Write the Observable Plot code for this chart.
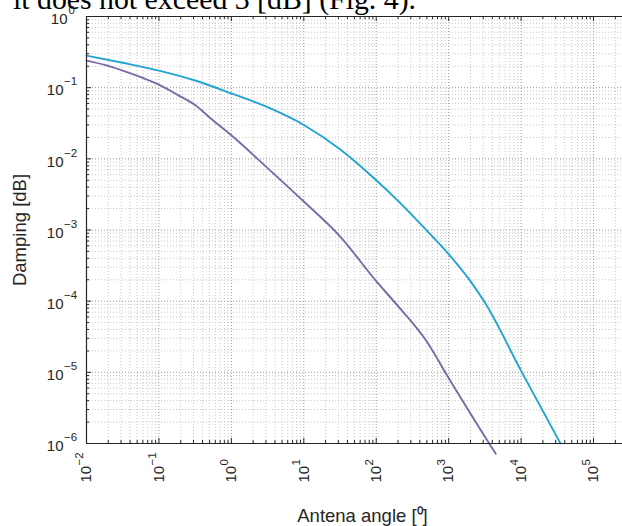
<!DOCTYPE html>
<html><head><meta charset="utf-8">
<script src="https://cdn.jsdelivr.net/npm/d3@7"></script>
<script src="https://cdn.jsdelivr.net/npm/@observablehq/plot@0.6"></script>
<style>
body{margin:0;background:#fff;}
#wrap{position:relative;width:622px;height:526px;overflow:hidden;background:#fff;}
#note{position:absolute;left:13px;top:-16px;font-family:"Liberation Serif","Times New Roman",serif;font-size:29.8px;line-height:29.8px;color:#000;white-space:nowrap;}
</style></head><body>
<div id="wrap"><div id="chart"></div><div id="note">it does not exceed 3 [dB] (Fig. 4).</div></div>
<script>
// ---- data ----
const xTicks = [1e-2, 1e-1, 1, 10, 100, 1e3, 1e4, 1e5];
const xTickExp = ["\u22122", "\u22121", "0", "1", "2", "3", "4", "5"];
const yTicks = [1, 1e-1, 1e-2, 1e-3, 1e-4, 1e-5, 1e-6];
const yTickExp = ["0", "\u22121", "\u22122", "\u22123", "\u22124", "\u22125", "\u22126"];

const cyanX = [0.01, 0.0316, 0.1, 0.316, 1, 3.16, 10, 31.6, 100, 200, 501, 1000, 1995, 3162, 10000, 35000];
const cyanY = [0.282, 0.224, 0.174, 0.126, 0.083, 0.0531, 0.0299, 0.01365, 0.00501, 0.00257, 0.000977, 0.000457, 0.000191, 9.55e-5, 1.05e-5, 1e-6];

const purpleX = [0.01, 0.0178, 0.0316, 0.0562, 0.1, 0.178, 0.316, 0.51, 1, 3.16, 10, 31.6, 100, 200, 501, 1000, 3800, 4470];
const purpleY = [0.240, 0.209, 0.174, 0.141, 0.110, 0.0800, 0.0570, 0.0375, 0.0214, 0.00741, 0.00251, 0.000813, 0.000191, 8.5e-5, 2.69e-5, 8.3e-6, 9.3e-7, 7.2e-7];

const xLabel = "Antena angle [\u2070]";
const yLabel = "Damping [dB]";

// ---- layout ----
const W = 622, H = 526;
const mL = 86, mR = 0, mT = 16, mB = 83;
const frameW = W - mL - mR, frameH = H - mT - mB;
const xDomain = [1e-2, Math.pow(10, 5.4)];
const yDomain = [1e-6, 1];

const minorX = [];
for (let d = -2; d <= 5; d++) for (let k = 2; k <= 9; k++) { const v = k * Math.pow(10, d); if (v <= xDomain[1]) minorX.push(v); }
const minorY = [];
for (let d = -6; d <= -1; d++) for (let k = 2; k <= 9; k++) minorY.push(k * Math.pow(10, d));

const cyan = cyanX.map((x, i) => ({x, y: cyanY[i]}));
const purple = purpleX.map((x, i) => ({x, y: purpleY[i]}));
const xt = xTicks.map((v, i) => ({v, e: xTickExp[i]}));
const yt = yTicks.map((v, i) => ({v, e: yTickExp[i]}));

const axisColor = "#262626";
const textColor = "#262626";

const chart = Plot.plot({
  width: W, height: H,
  marginLeft: mL, marginRight: mR, marginTop: mT, marginBottom: mB,
  x: {type: "log", domain: xDomain, axis: null},
  y: {type: "log", domain: yDomain, axis: null},
  style: {fontFamily: "'Liberation Sans', Arial, Helvetica, sans-serif", background: "#fff", color: textColor},
  marks: [
    // minor grid
    Plot.ruleX(minorX, {stroke: "#c8c8c8", strokeDasharray: "1,2"}),
    Plot.ruleY(minorY, {stroke: "#c8c8c8", strokeDasharray: "1,2"}),
    // major grid
    Plot.ruleX(xTicks.slice(1), {stroke: "#9a9a9a", strokeDasharray: "1,2"}),
    Plot.ruleY(yTicks.slice(1, -1), {stroke: "#9a9a9a", strokeDasharray: "1,2"}),
    // series
    Plot.line(cyan, {x: "x", y: "y", stroke: "#20a4d2", strokeWidth: 1.9, curve: "monotone-x"}),
    Plot.line(purple, {x: "x", y: "y", stroke: "#7c69a7", strokeWidth: 1.9, curve: "monotone-x"}),
    // axes box
    Plot.ruleY([yDomain[0]], {stroke: axisColor, strokeWidth: 1.2}),
    Plot.ruleY([yDomain[1]], {stroke: axisColor, strokeWidth: 1.2}),
    Plot.ruleX([xDomain[0]], {stroke: axisColor, strokeWidth: 1.2}),
    // ticks (inward)
    Plot.ruleX(xTicks, {stroke: axisColor, insetTop: frameH - 5}),
    Plot.ruleX(minorX, {stroke: axisColor, insetTop: frameH - 3}),
    Plot.ruleX(xTicks, {stroke: axisColor, insetBottom: frameH - 5}),
    Plot.ruleX(minorX, {stroke: axisColor, insetBottom: frameH - 3}),
    Plot.ruleY(yTicks, {stroke: axisColor, insetRight: frameW - 5}),
    Plot.ruleY(minorY, {stroke: axisColor, insetRight: frameW - 3}),
    // y tick labels
    Plot.text(yt.filter(d => d.e.length > 1), {y: "v", text: () => "10", frameAnchor: "left", textAnchor: "end", lineAnchor: "middle", dx: -23, dy: 3, fontSize: 15, fill: textColor}),
    Plot.text(yt.filter(d => d.e.length === 1), {y: "v", text: () => "10", frameAnchor: "left", textAnchor: "end", lineAnchor: "middle", dx: -19, dy: 3, fontSize: 15, fill: textColor}),
    Plot.text(yt.filter(d => d.e.length > 1), {y: "v", text: "e", frameAnchor: "left", textAnchor: "start", lineAnchor: "middle", dx: -22.5, dy: -6, fontSize: 11.5, fill: textColor}),
    Plot.text(yt.filter(d => d.e.length === 1), {y: "v", text: "e", frameAnchor: "left", textAnchor: "start", lineAnchor: "middle", dx: -18, dy: -6, fontSize: 11.5, fill: textColor}),
    // x tick labels (rotated)
    Plot.text(xt, {x: "v", text: () => "10", frameAnchor: "bottom", rotate: -90, textAnchor: "start", lineAnchor: "middle", dy: 39, fontSize: 15, fill: textColor}),
    Plot.text(xt, {x: "v", text: "e", frameAnchor: "bottom", rotate: -90, textAnchor: "start", lineAnchor: "middle", dy: 22, dx: -7, fontSize: 11.5, fill: textColor}),
    // axis titles
    Plot.text([yLabel], {text: d => d, frameAnchor: "left", rotate: -90, textAnchor: "middle", lineAnchor: "middle", dx: -66, fontSize: 18.5, fill: textColor}),
    Plot.text([xLabel], {text: d => d, frameAnchor: "bottom", textAnchor: "middle", lineAnchor: "bottom", dx: 8, dy: 78, fontSize: 18.5, fill: textColor})
  ]
});
document.getElementById("chart").appendChild(chart);
</script>
</body></html>
